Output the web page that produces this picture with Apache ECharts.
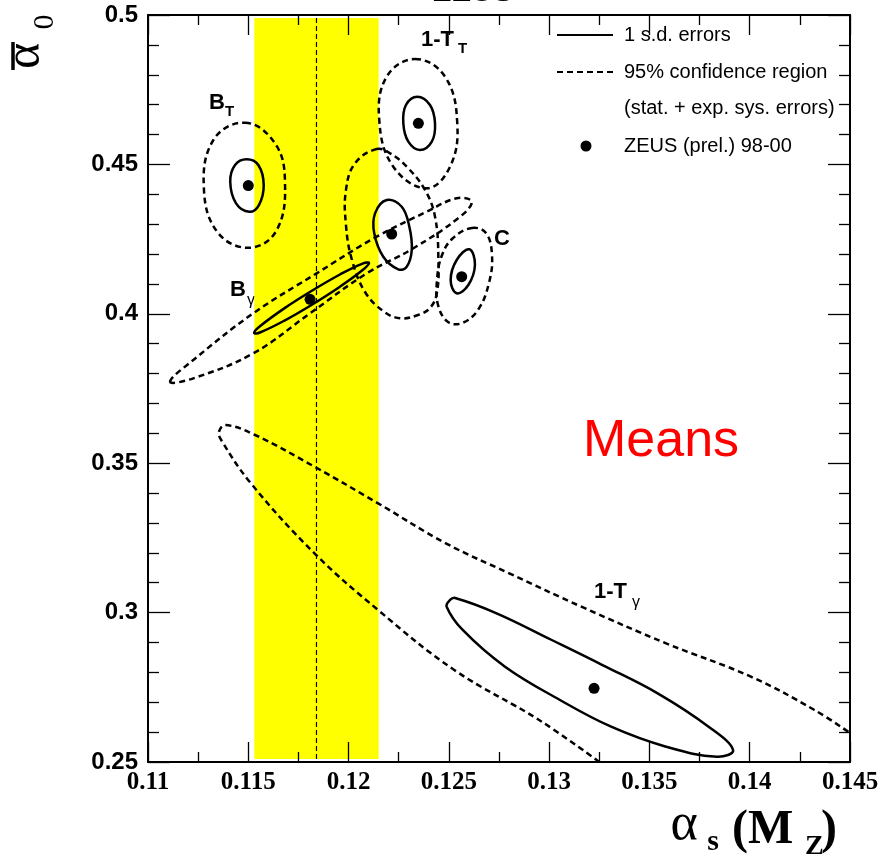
<!DOCTYPE html>
<html><head><meta charset="utf-8">
<script src="https://cdn.jsdelivr.net/npm/echarts@6/dist/echarts.min.js"></script>
<style>html,body{margin:0;padding:0;background:#fff}#c{width:882px;height:857px}</style>
</head><body><div id="c"></div>
<script>
// ---- data (alpha_s(M_Z), alpha0bar) ----
const xRange = [0.11, 0.145];
const yRange = [0.25, 0.5];
const worldAvg = 0.1184;
const worldBand = [0.1153, 0.1215];
const worldBandY = [0.251, 0.499];

const centers = [
  [0.1150, 0.4429],   // B_T
  [0.12348, 0.46375], // 1-T_T
  [0.12215, 0.42671], // M^2
  [0.12564, 0.41242], // C
  [0.11808, 0.40485], // B_gamma
  [0.13224, 0.27467]  // 1-T_gamma
];

const BT_sd = [[0.11492,0.45171],[0.1155,0.4498],[0.11577,0.4431],[0.11553,0.4364],[0.11505,0.43417],[0.11439,0.43698],[0.1141,0.44421],[0.11434,0.4498]];
const BT_95 = [[0.11484,0.46396],[0.11633,0.45706],[0.11683,0.4442],[0.11642,0.42805],[0.11509,0.42212],[0.11351,0.42694],[0.11279,0.44143],[0.11326,0.45817]];
const TT_sd = [[0.12343,0.47266],[0.12406,0.46988],[0.12431,0.46375],[0.12415,0.4576],[0.12356,0.45482],[0.12298,0.4576],[0.12273,0.46375],[0.12286,0.46988]];
const TT_95 = [[0.12331,0.48527],[0.12481,0.47935],[0.12542,0.46375],[0.12506,0.44923],[0.1239,0.442],[0.12223,0.44923],[0.12153,0.46486],[0.1219,0.47935]];
const M2_sd = [[0.1219,0.43809],[0.12265,0.43584],[0.12303,0.42915],[0.12315,0.42135],[0.1229,0.41576],[0.12248,0.41489],[0.12173,0.41911],[0.12128,0.42694],[0.12132,0.43363]];
const M2_95 = [[0.1214,0.45515],[0.12207,0.45371],[0.1229,0.44923],[0.12381,0.44143],[0.12431,0.4325],[0.12448,0.418],[0.1244,0.40686],[0.12406,0.40194],[0.12346,0.3996],[0.12257,0.39849],[0.12172,0.40094],[0.12082,0.4073],[0.12017,0.418],[0.11987,0.42972],[0.11987,0.44143],[0.12032,0.45037]];
const C_sd = [[0.12602,0.42159],[0.1263,0.41633],[0.12597,0.40964],[0.12539,0.40686],[0.12509,0.41131],[0.12539,0.418]];
const C_95 = [[0.12615,0.42871],[0.12685,0.42704],[0.12715,0.41968],[0.127,0.41031],[0.12645,0.40127],[0.12566,0.39692],[0.12496,0.39726],[0.12446,0.40295],[0.12441,0.41131],[0.12466,0.41968],[0.12521,0.42537]];
const Bg_sd = [[0.11529,0.39357],[0.11558,0.39582],[0.11683,0.40198],[0.11815,0.40763],[0.11957,0.41315],[0.12067,0.41673],[0.12102,0.417],[0.12067,0.41446],[0.11957,0.40907],[0.11815,0.40295],[0.11683,0.39782],[0.11558,0.39374]];
const Bg_95 = [[0.1111,0.37728],[0.11226,0.38454],[0.11525,0.40017],[0.11841,0.41355],[0.1214,0.4258],[0.1239,0.43417],[0.12539,0.43865],[0.12614,0.43752],[0.12556,0.4325],[0.12323,0.42192],[0.12091,0.41355],[0.11808,0.40017],[0.11525,0.38678],[0.11226,0.37841]];
const Tg_sd = [[0.12506,0.30422],[0.12531,0.30489],[0.12738,0.29977],[0.13013,0.29083],[0.13266,0.28246],[0.13541,0.27299],[0.13795,0.26182],[0.13917,0.25402],[0.13837,0.25178],[0.13583,0.25512],[0.13309,0.26182],[0.13054,0.27075],[0.1278,0.28189],[0.12569,0.29418],[0.12489,0.30197]];
const Tg_95 = [[0.1325,0.25],[0.1295,0.26406],[0.12527,0.2808],[0.12147,0.30087],[0.1183,0.31985],[0.11513,0.34327],[0.11365,0.35776],[0.11354,0.36054],[0.11386,0.36278],[0.11534,0.35944],[0.1183,0.34883],[0.12147,0.33658],[0.12485,0.32319],[0.12801,0.31315],[0.13161,0.30197],[0.13583,0.28972],[0.14006,0.27855],[0.14323,0.2674],[0.145,0.2597]];

// ---- helpers ----
function contour(points, dashed, closed) {
  return {
    type: 'custom', coordinateSystem: 'cartesian2d', xAxisIndex: 0, yAxisIndex: 0,
    z: 3, silent: true, animation: false,
    data: points,
    renderItem: function (params, api) {
      if (params.dataIndex !== 0) return null;
      const pts = points.map(p => api.coord(p));
      return {
        type: closed ? 'polygon' : 'polyline',
        shape: { points: pts, smooth: 0.4 },
        style: { fill: 'none', stroke: '#000', lineWidth: 2.5, lineDash: dashed ? [6, 4] : null }
      };
    }
  };
}
const fmt = v => String(+(+v).toFixed(4));

const axisCommon = {
  type: 'value', scale: false,
  axisLine: { show: true, onZero: false, lineStyle: { color: '#000', width: 2 } },
  splitLine: { show: false },
  z: 5
};

const chart = echarts.init(document.getElementById('c'));
chart.setOption({
  animation: false,
  backgroundColor: '#fff',
  grid: { left: 148, right: 32, top: 15, bottom: 95, containLabel: false, outerBoundsMode: 'none' },
  xAxis: [
    Object.assign({}, axisCommon, {
      position: 'bottom', min: xRange[0], max: xRange[1], interval: 0.005,
      axisTick: { show: true, inside: true, length: 20, lineStyle: { color: '#000', width: 1.3 } },
      minorTick: { show: true, splitNumber: 2, length: 10, lineStyle: { color: '#000', width: 1.3 } },
      axisLabel: { show: true, formatter: fmt, margin: 8, color: '#000', fontFamily: 'Liberation Serif', fontWeight: 'bold', fontSize: 25 }
    }),
    Object.assign({}, axisCommon, {
      position: 'top', min: xRange[0], max: xRange[1], interval: 0.005,
      axisTick: { show: true, inside: true, length: 20, lineStyle: { color: '#000', width: 1.3 } },
      minorTick: { show: true, splitNumber: 2, length: 10, lineStyle: { color: '#000', width: 1.3 } },
      axisLabel: { show: false }
    })
  ],
  yAxis: [
    Object.assign({}, axisCommon, {
      position: 'left', min: yRange[0], max: yRange[1], interval: 0.05,
      axisTick: { show: true, inside: true, length: 22, lineStyle: { color: '#000', width: 1.3 } },
      minorTick: { show: true, splitNumber: 5, length: 11, lineStyle: { color: '#000', width: 1.3 } },
      axisLabel: { show: true, formatter: fmt, margin: 10, color: '#000', fontFamily: 'Liberation Sans', fontWeight: 'bold', fontSize: 24 }
    }),
    Object.assign({}, axisCommon, {
      position: 'right', min: yRange[0], max: yRange[1], interval: 0.05,
      axisTick: { show: true, inside: true, length: 22, lineStyle: { color: '#000', width: 1.3 } },
      minorTick: { show: true, splitNumber: 5, length: 11, lineStyle: { color: '#000', width: 1.3 } },
      axisLabel: { show: false }
    })
  ],
  series: [
    {
      type: 'custom', coordinateSystem: 'cartesian2d', z: 1, silent: true,
      data: [[worldBand[0], worldBandY[0], worldBand[1], worldBandY[1]]],
      renderItem: function (params, api) {
        const p0 = api.coord([api.value(0), api.value(3)]);
        const p1 = api.coord([api.value(2), api.value(1)]);
        return { type: 'rect', shape: { x: p0[0], y: p0[1], width: p1[0] - p0[0], height: p1[1] - p0[1] }, style: { fill: '#ffff00' } };
      }
    },
    {
      type: 'line', z: 2, silent: true, symbol: 'none',
      data: [[worldAvg, worldBandY[0]], [worldAvg, worldBandY[1]]],
      lineStyle: { color: '#000', width: 1.2, type: [5, 3] }
    },
    contour(BT_95, true, true), contour(BT_sd, false, true),
    contour(TT_95, true, true), contour(TT_sd, false, true),
    contour(M2_95, true, true), contour(M2_sd, false, true),
    contour(C_95, true, true), contour(C_sd, false, true),
    contour(Bg_95, true, true), contour(Bg_sd, false, true),
    contour(Tg_95, true, false), contour(Tg_sd, false, true),
    {
      type: 'scatter', z: 4, silent: true, symbol: 'circle', symbolSize: 11,
      data: centers, itemStyle: { color: '#000', opacity: 1 }
    }
  ],
  graphic: [
    // title (cut off at top)
    { type: 'text', x: 473, y: -7, style: { text: 'ZEUS', font: 'bold 30px "Liberation Sans"', fill: '#000', align: 'center', verticalAlign: 'middle' } },
    // y-axis title
    { type: 'line', shape: { x1: 13, y1: 42, x2: 13, y2: 70 }, style: { stroke: '#000', lineWidth: 3.5 } },
    { type: 'text', x: 26, y: 56, rotation: Math.PI / 2, style: { text: 'α', font: '50px "Liberation Serif"', fill: '#000', align: 'center', verticalAlign: 'middle' } },
    { type: 'text', x: 45, y: 22, rotation: Math.PI / 2, style: { text: '0', font: '30px "Liberation Serif"', fill: '#000', align: 'center', verticalAlign: 'middle' } },
    // x-axis title
    { type: 'text', x: 684, y: 825, style: { text: 'α', font: '52px "Liberation Serif"', fill: '#000', align: 'center', verticalAlign: 'middle' } },
    { type: 'text', x: 713, y: 842, style: { text: 's', font: 'bold 30px "Liberation Serif"', fill: '#000', align: 'center', verticalAlign: 'middle' } },
    { type: 'text', x: 732, y: 831, style: { text: '(M', font: 'bold 48px "Liberation Serif"', fill: '#000', align: 'left', verticalAlign: 'middle' } },
    { type: 'text', x: 805, y: 847, style: { text: 'Z', font: 'bold 28px "Liberation Serif"', fill: '#000', align: 'left', verticalAlign: 'middle' } },
    { type: 'text', x: 821, y: 831, style: { text: ')', font: 'bold 48px "Liberation Serif"', fill: '#000', align: 'left', verticalAlign: 'middle' } },
    // curve labels
    { type: 'text', x: 209, y: 103, style: { text: 'B', font: 'bold 22px "Liberation Sans"', fill: '#000', align: 'left', verticalAlign: 'middle' } },
    { type: 'text', x: 225, y: 112, style: { text: 'T', font: 'bold 15px "Liberation Sans"', fill: '#000', align: 'left', verticalAlign: 'middle' } },
    { type: 'text', x: 421, y: 40, style: { text: '1-T', font: 'bold 22px "Liberation Sans"', fill: '#000', align: 'left', verticalAlign: 'middle' } },
    { type: 'text', x: 458, y: 49, style: { text: 'T', font: 'bold 15px "Liberation Sans"', fill: '#000', align: 'left', verticalAlign: 'middle' } },
    { type: 'text', x: 334, y: 135, style: { text: 'M', font: 'bold 22px "Liberation Sans"', fill: '#000', align: 'left', verticalAlign: 'middle' } },
    { type: 'text', x: 356, y: 127, style: { text: '2', font: 'bold 15px "Liberation Sans"', fill: '#000', align: 'left', verticalAlign: 'middle' } },
    { type: 'text', x: 230, y: 290, style: { text: 'B', font: 'bold 22px "Liberation Sans"', fill: '#000', align: 'left', verticalAlign: 'middle' } },
    { type: 'text', x: 247, y: 301, style: { text: 'γ', font: '16px "Liberation Sans"', fill: '#000', align: 'left', verticalAlign: 'middle' } },
    { type: 'text', x: 494, y: 239, style: { text: 'C', font: 'bold 22px "Liberation Sans"', fill: '#000', align: 'left', verticalAlign: 'middle' } },
    { type: 'text', x: 594, y: 592, style: { text: '1-T', font: 'bold 22px "Liberation Sans"', fill: '#000', align: 'left', verticalAlign: 'middle' } },
    { type: 'text', x: 632, y: 603, style: { text: 'γ', font: '16px "Liberation Sans"', fill: '#000', align: 'left', verticalAlign: 'middle' } },
    { type: 'text', x: 583, y: 442, style: { text: 'Means', font: '52px "Liberation Sans"', fill: '#ff0000', align: 'left', verticalAlign: 'middle' } },
    // legend
    { type: 'line', shape: { x1: 557, y1: 35, x2: 613, y2: 35 }, style: { stroke: '#000', lineWidth: 2.2 } },
    { type: 'line', shape: { x1: 557, y1: 72, x2: 613, y2: 72 }, style: { stroke: '#000', lineWidth: 2.2, lineDash: [6, 4] } },
    { type: 'circle', shape: { cx: 586, cy: 146, r: 5.5 }, style: { fill: '#000' } },
    { type: 'text', x: 624, y: 35, style: { text: '1 s.d. errors', font: '20px "Liberation Sans"', fill: '#000', align: 'left', verticalAlign: 'middle' } },
    { type: 'text', x: 624, y: 72, style: { text: '95% confidence region', font: '20px "Liberation Sans"', fill: '#000', align: 'left', verticalAlign: 'middle' } },
    { type: 'text', x: 624, y: 108, style: { text: '(stat. + exp. sys. errors)', font: '20px "Liberation Sans"', fill: '#000', align: 'left', verticalAlign: 'middle' } },
    { type: 'text', x: 624, y: 146, style: { text: 'ZEUS (prel.) 98-00', font: '20px "Liberation Sans"', fill: '#000', align: 'left', verticalAlign: 'middle' } }
  ]
});
</script>
</body></html>
